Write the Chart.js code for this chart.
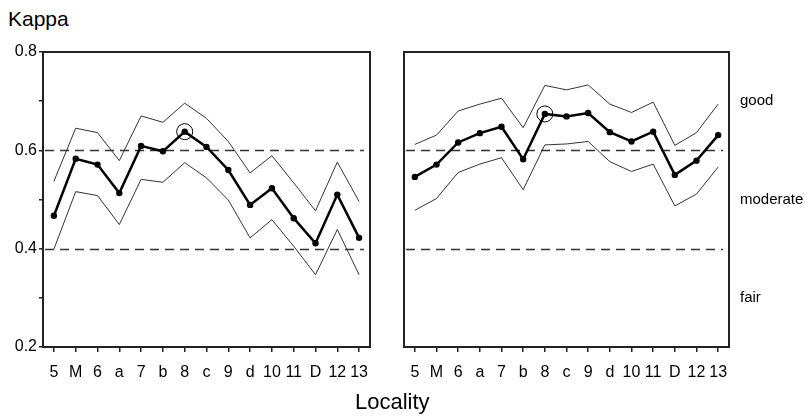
<!DOCTYPE html>
<html lang="en">
<head>
  <meta charset="UTF-8" />
  <title>Kappa by locality</title>
  <script src="https://cdn.jsdelivr.net/npm/chart.js"></script>
  <style>
    body {
      margin: 0;
      background: #fff;
      font-family: "Liberation Sans", Arial, sans-serif;
    }
    .wrap {
      position: relative;
      width: 809px;
      height: 416px;
      overflow: hidden;
    }
    .panel {
      position: absolute;
      top: 0;
      height: 416px;
    }
    .label {
      position: absolute;
      font-size: 21px;
      line-height: 1;
      color: #000;
      white-space: nowrap;
    }
  </style>
</head>
<body>
  <div class="wrap">
    <div class="label" style="left:8px; top:8px;">Kappa</div>
    <div class="panel" style="left:0; width:380px;"><canvas id="leftChart"></canvas></div>
    <div class="panel" style="left:395px; width:414px;"><canvas id="rightChart"></canvas></div>
    <div class="label" style="left:355px; top:391px; font-size:22px;">Locality</div>
  </div>

  <script>
    // values
    const localities = ['5', 'M', '6', 'a', '7', 'b', '8', 'c', '9', 'd', '10', '11', 'D', '12', '13'];

    const kappaLeft = [0.467, 0.583, 0.571, 0.513, 0.609, 0.598, 0.638, 0.607, 0.560, 0.489, 0.523, 0.462, 0.411, 0.510, 0.422];
    const upperLeft = [0.537, 0.645, 0.636, 0.579, 0.670, 0.657, 0.696, 0.665, 0.618, 0.554, 0.589, 0.534, 0.477, 0.576, 0.496];
    const lowerLeft = [0.399, 0.516, 0.508, 0.449, 0.541, 0.535, 0.575, 0.544, 0.499, 0.422, 0.459, 0.405, 0.347, 0.439, 0.347];

    const kappaRight = [0.546, 0.571, 0.616, 0.635, 0.648, 0.582, 0.674, 0.669, 0.676, 0.637, 0.618, 0.638, 0.550, 0.579, 0.631];
    const upperRight = [0.612, 0.631, 0.680, 0.694, 0.706, 0.646, 0.732, 0.723, 0.733, 0.694, 0.677, 0.698, 0.610, 0.636, 0.694];
    const lowerRight = [0.478, 0.502, 0.555, 0.572, 0.585, 0.520, 0.611, 0.613, 0.618, 0.577, 0.557, 0.572, 0.487, 0.511, 0.566];

    const highlightIndex = 6; // circled locality "8"
    const cutoffs = [0.4, 0.6];
    const bandNames = ['good', 'moderate', 'fair'];
    const bandCentres = [0.7, 0.5, 0.3];
    const yMin = 0.2, yMax = 0.8;

    const tickFont = { family: '"Liberation Sans", Arial, sans-serif', size: 16 };

    // box round the plot + dashed cutoff lines
    const framePlugin = {
      id: 'frame',
      beforeDatasetsDraw(chart) {
        const { ctx, chartArea: a, scales } = chart;
        ctx.save();
        ctx.strokeStyle = '#333';
        ctx.lineWidth = 1.5;
        ctx.setLineDash([9, 6]);
        cutoffs.forEach(c => {
          const y = Math.round(scales.y.getPixelForValue(c)) + 0.5;
          ctx.beginPath();
          ctx.moveTo(a.left + 2, y);
          ctx.lineTo(a.right - 6, y);
          ctx.stroke();
        });
        ctx.restore();
      },
      afterDraw(chart) {
        const { ctx, chartArea: a } = chart;
        ctx.save();
        ctx.strokeStyle = '#222';
        ctx.lineWidth = 2;
        ctx.strokeRect(a.left, a.top, a.right - a.left, a.bottom - a.top);
        ctx.restore();
      }
    };

    const bandPlugin = {
      id: 'bands',
      afterDraw(chart) {
        const { ctx, chartArea: a, scales } = chart;
        ctx.save();
        ctx.fillStyle = '#000';
        ctx.font = '15px "Liberation Sans", Arial, sans-serif';
        ctx.textBaseline = 'middle';
        ctx.textAlign = 'left';
        bandNames.forEach((name, i) => {
          ctx.fillText(name, a.right + 11, scales.y.getPixelForValue(bandCentres[i]));
        });
        ctx.restore();
      }
    };

    function makeDatasets(kappa, upper, lower) {
      const ci = (data) => ({
        data: data,
        borderColor: '#333',
        borderWidth: 1,
        pointRadius: 0,
        tension: 0,
        fill: false
      });
      return [
        ci(upper),
        ci(lower),
        {
          data: kappa,
          borderColor: '#000',
          backgroundColor: '#000',
          borderWidth: 2.5,
          pointRadius: 3.2,
          pointBorderWidth: 0,
          tension: 0,
          fill: false
        },
        {
          data: kappa.map((v, i) => i === highlightIndex ? v : null),
          showLine: false,
          pointRadius: 8,
          pointBorderWidth: 1,
          pointBorderColor: '#000',
          pointBackgroundColor: 'rgba(0,0,0,0)'
        }
      ];
    }

    function makeChart(id, kappa, upper, lower, isLeft) {
      return new Chart(document.getElementById(id), {
        type: 'line',
        data: { labels: localities, datasets: makeDatasets(kappa, upper, lower) },
        options: {
          responsive: true,
          maintainAspectRatio: false,
          animation: false,
          layout: {
            padding: isLeft
              ? { top: 52, right: 10, left: 0, bottom: 0 }
              : { top: 52, right: 80, left: 7, bottom: 0 }
          },
          plugins: { legend: { display: false }, tooltip: { enabled: false } },
          scales: {
            x: {
              type: 'category',
              offset: true,
              border: { display: false },
              grid: { drawOnChartArea: false, offset: false, tickLength: 5, color: '#222', lineWidth: 1.5 },
              ticks: { color: '#000', font: tickFont, padding: 11, maxRotation: 0, autoSkip: false },
              afterFit(axis) { axis.height = 69; }
            },
            y: {
              display: isLeft,
              min: yMin,
              max: yMax,
              border: { display: false },
              grid: { drawOnChartArea: false, tickLength: 4, color: '#222', lineWidth: 1.5 },
              ticks: {
                stepSize: 0.1,
                color: '#000',
                font: tickFont,
                padding: 2,
                callback: (v) => {
                  const r = Math.round(v * 10);
                  return r % 2 === 0 ? (r / 10).toFixed(1) : '';
                }
              },
              afterFit(axis) { axis.width = isLeft ? 43 : 0; }
            }
          }
        },
        plugins: isLeft ? [framePlugin] : [framePlugin, bandPlugin]
      });
    }

    makeChart('leftChart', kappaLeft, upperLeft, lowerLeft, true);
    makeChart('rightChart', kappaRight, upperRight, lowerRight, false);
  </script>
</body>
</html>
